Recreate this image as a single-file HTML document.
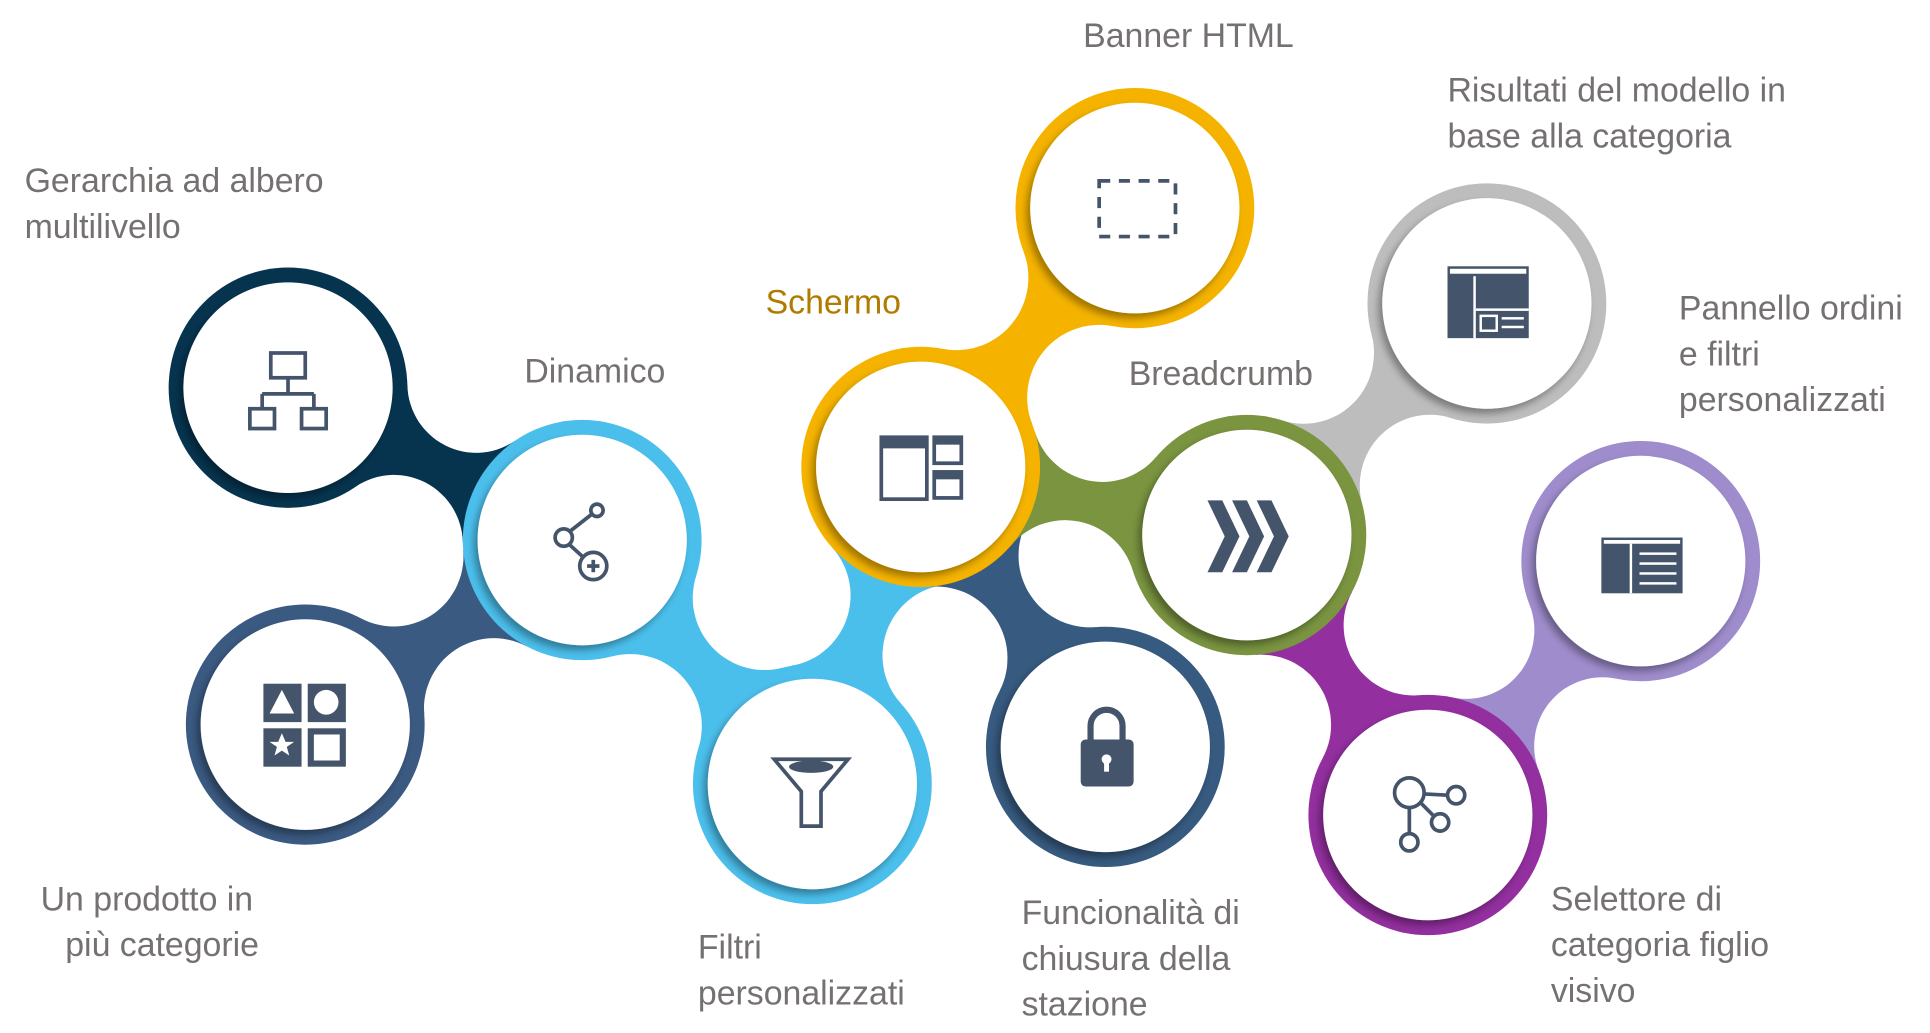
<!DOCTYPE html>
<html><head><meta charset="utf-8"><style>
html,body{margin:0;padding:0;background:#fff;overflow:hidden}
svg{display:block}
text{font-family:"Liberation Sans",sans-serif;font-size:27.5px;fill:#767171}
</style></head><body>
<svg id="s" width="1930" height="1033" viewBox="0 0 1568 834" preserveAspectRatio="none" xmlns="http://www.w3.org/2000/svg">
<defs>
<filter id="sh" x="-20%" y="-20%" width="140%" height="140%"><feDropShadow dx="-3" dy="4" stdDeviation="3" flood-color="#000" flood-opacity="0.35"/></filter>
</defs>
<g id="bridges"></g>
<g>
<circle cx="234" cy="313" r="97" fill="#06344f"/>
<circle cx="248" cy="585" r="97" fill="#3b5a82"/>
<circle cx="473" cy="436" r="97" fill="#4bbfec"/>
<circle cx="660" cy="633" r="97" fill="#4bbfec"/>
<circle cx="922" cy="168" r="97" fill="#f5b300"/>
<circle cx="898" cy="603" r="97" fill="#375a80"/>
<circle cx="1208" cy="245" r="97" fill="#bdbdbd"/>
<circle cx="1333" cy="453" r="97" fill="#9f8ccc"/>
<circle cx="1160" cy="658" r="97" fill="#932f9f"/>
<circle cx="1013" cy="432" r="97" fill="#7a9440"/>
<circle cx="748" cy="377" r="97" fill="#f5b300"/>
</g>
<g fill="#fff" filter="url(#sh)">
<circle cx="234" cy="313" r="85"/><circle cx="248" cy="585" r="85"/><circle cx="473" cy="436" r="85"/>
<circle cx="660" cy="633" r="85"/><circle cx="922" cy="168" r="85"/><circle cx="898" cy="603" r="85"/>
<circle cx="1208" cy="245" r="85"/><circle cx="1333" cy="453" r="85"/><circle cx="1160" cy="658" r="85"/>
<circle cx="1013" cy="432" r="85"/><circle cx="748" cy="377" r="85"/>
</g>
<g fill="none" stroke="#44546a" stroke-width="3">
<rect x="220" y="285" width="28" height="20"/><line x1="234" y1="305" x2="234" y2="318"/><line x1="213" y1="318" x2="255" y2="318"/><line x1="213" y1="318" x2="213" y2="330"/><line x1="255" y1="318" x2="255" y2="330"/><rect x="203" y="330" width="20" height="16"/><rect x="245" y="330" width="20" height="16"/>
<circle cx="458" cy="434" r="7"/><circle cx="485" cy="412" r="5"/><circle cx="482" cy="457" r="11"/><line x1="463" y1="429" x2="481" y2="415"/><line x1="463" y1="440" x2="474" y2="450"/><line x1="477" y1="457" x2="487" y2="457"/><line x1="482" y1="452" x2="482" y2="462"/>
<rect x="893" y="146" width="62" height="45" stroke-dasharray="9 7"/>
<path d="M629 613 h60 l-22 26 v28 h-16 v-28 z"/>
<circle cx="1145" cy="640" r="12"/><circle cx="1183" cy="642" r="7"/><circle cx="1170" cy="664" r="7"/><circle cx="1145" cy="680" r="7"/><line x1="1157" y1="641" x2="1176" y2="642"/><line x1="1154" y1="648" x2="1165" y2="659"/><line x1="1145" y1="652" x2="1145" y2="673"/>
</g>
<g fill="#44546a">
<rect x="716" y="353" width="37" height="50" fill="none" stroke="#44546a" stroke-width="3"/><rect x="716" y="353" width="37" height="9"/>
<rect x="759" y="353" width="22" height="21" fill="none" stroke="#44546a" stroke-width="3"/><rect x="759" y="353" width="22" height="6"/>
<rect x="759" y="381" width="22" height="21" fill="none" stroke="#44546a" stroke-width="3"/><rect x="759" y="381" width="22" height="6"/>
<rect x="214" y="552" width="31" height="31"/><rect x="250" y="552" width="31" height="31"/><rect x="214" y="588" width="31" height="31"/><rect x="250" y="588" width="31" height="31"/>
<path d="M229 557 l10 19 h-20z" fill="#fff"/><circle cx="265" cy="567" r="10" fill="#fff"/><rect x="255" y="593" width="21" height="21" fill="#fff"/>
<path d="M229 592 l3 7 h7 l-6 4 2 7 -6 -4 -6 4 2 -7 -6 -4 h7z" fill="#fff"/>
<ellipse cx="659" cy="619" rx="18" ry="5"/>
<path d="M886 598 v-12 a13 13 0 0 1 26 0 v12" fill="none" stroke="#44546a" stroke-width="5"/>
<rect x="878" y="597" width="43" height="38" rx="4"/><circle cx="899" cy="613" r="4" fill="#fff"/><rect x="897" y="613" width="4" height="10" fill="#fff"/>
<path d="M981 404 l12 0 l14 29 l-14 29 h-12 l14 -29z"/><path d="M1001 404 l12 0 l14 29 l-14 29 h-12 l14 -29z"/><path d="M1021 404 l12 0 l14 29 l-14 29 h-12 l14 -29z"/>
<rect x="1176" y="215" width="66" height="58"/><rect x="1178" y="217" width="62" height="4" fill="#fff"/><rect x="1197" y="223" width="2" height="50" fill="#fff"/><rect x="1199" y="249" width="43" height="2" fill="#fff"/>
<rect x="1203" y="255" width="13" height="12" fill="none" stroke="#fff" stroke-width="2"/><rect x="1220" y="256" width="18" height="2" fill="#fff"/><rect x="1220" y="263" width="18" height="2" fill="#fff"/>
<rect x="1301" y="434" width="66" height="45"/><rect x="1303" y="436" width="62" height="3" fill="#fff"/><rect x="1324" y="439" width="2" height="40" fill="#fff"/>
<rect x="1332" y="446" width="30" height="2" fill="#fff"/><rect x="1332" y="454" width="30" height="2" fill="#fff"/><rect x="1332" y="462" width="30" height="2" fill="#fff"/><rect x="1332" y="470" width="30" height="2" fill="#fff"/>
</g>
<text x="880" y="38">Banner HTML</text>
<text x="1176" y="82">Risultati del modello in</text><text x="1176" y="119">base alla categoria</text>
<text x="20" y="155">Gerarchia ad albero</text><text x="20" y="192">multilivello</text>
<text x="622" y="253" style="fill:#b07c00">Schermo</text>
<text x="426" y="309">Dinamico</text>
<text x="917" y="311">Breadcrumb</text>
<text x="1364" y="258">Pannello ordini</text><text x="1364" y="295">e filtri</text><text x="1364" y="332">personalizzati</text>
<text x="33" y="735">Un prodotto in</text><text x="53" y="772">più categorie</text>
<text x="567" y="774">Filtri</text><text x="567" y="811">personalizzati</text>
<text x="830" y="746">Funcionalità di</text><text x="830" y="783">chiusura della</text><text x="830" y="820">stazione</text>
<text x="1260" y="735">Selettore di</text><text x="1260" y="772">categoria figlio</text><text x="1260" y="809">visivo</text>
</svg>
<script>
(function(){
var P={nav:[234,313],bg:[248,585],din:[473,436],fil:[660,633],sch:[748,377],ban:[922,168],lock:[898,603],br:[1013,432],gr:[1208,245],lp:[1333,453],pu:[1160,658]};
var C=[["nav","din","#06344f"],["bg","din","#3b5a82"],["din","fil","#4bbfec"],["fil","sch","#4bbfec"],["sch","ban","#f5b300"],["sch","lock","#375a80"],["sch","br","#7a9440"],["br","gr","#bdbdbd"],["br","pu","#932f9f"],["pu","lp","#9f8ccc"]];
var R=97,neck=17,g=document.getElementById("bridges"),ns="http://www.w3.org/2000/svg";
C.forEach(function(c){
 var A=P[c[0]],B=P[c[1]],dx=B[0]-A[0],dy=B[1]-A[1],L=Math.hypot(dx,dy),ux=dx/L,uy=dy/L,nx=-uy,ny=ux;
 var h=L/2; var r=(h*h+neck*neck-R*R)/(2*(R-neck)); if(r<10)r=10;
 var d=r+neck,M=[A[0]+ux*h,A[1]+uy*h];
 var pts=[];
 [1,-1].forEach(function(s,idx){
  var Cc=[M[0]+nx*d*s,M[1]+ny*d*s];
  function tp(O){var vx=Cc[0]-O[0],vy=Cc[1]-O[1],l=Math.hypot(vx,vy);return [O[0]+vx/l*R,O[1]+vy/l*R];}
  var ta=tp(A),tb=tp(B);
  var a1=Math.atan2(ta[1]-Cc[1],ta[0]-Cc[0]),a2=Math.atan2(tb[1]-Cc[1],tb[0]-Cc[0]);
  var da=a2-a1; while(da>Math.PI)da-=2*Math.PI; while(da<-Math.PI)da+=2*Math.PI;
  var seg=[];
  for(var i=0;i<=30;i++){var a=a1+da*i/30;seg.push([Cc[0]+r*Math.cos(a),Cc[1]+r*Math.sin(a)]);}
  if(idx==1)seg.reverse();
  pts=pts.concat(seg);
 });
 var p=document.createElementNS(ns,"path");
 p.setAttribute("d","M"+A[0]+" "+A[1]+" L"+pts.map(function(q){return q[0].toFixed(1)+" "+q[1].toFixed(1)}).join(" L")+" Z");
 p.setAttribute("fill",c[2]);
 g.appendChild(p);
});
})();
</script>
</body></html>
